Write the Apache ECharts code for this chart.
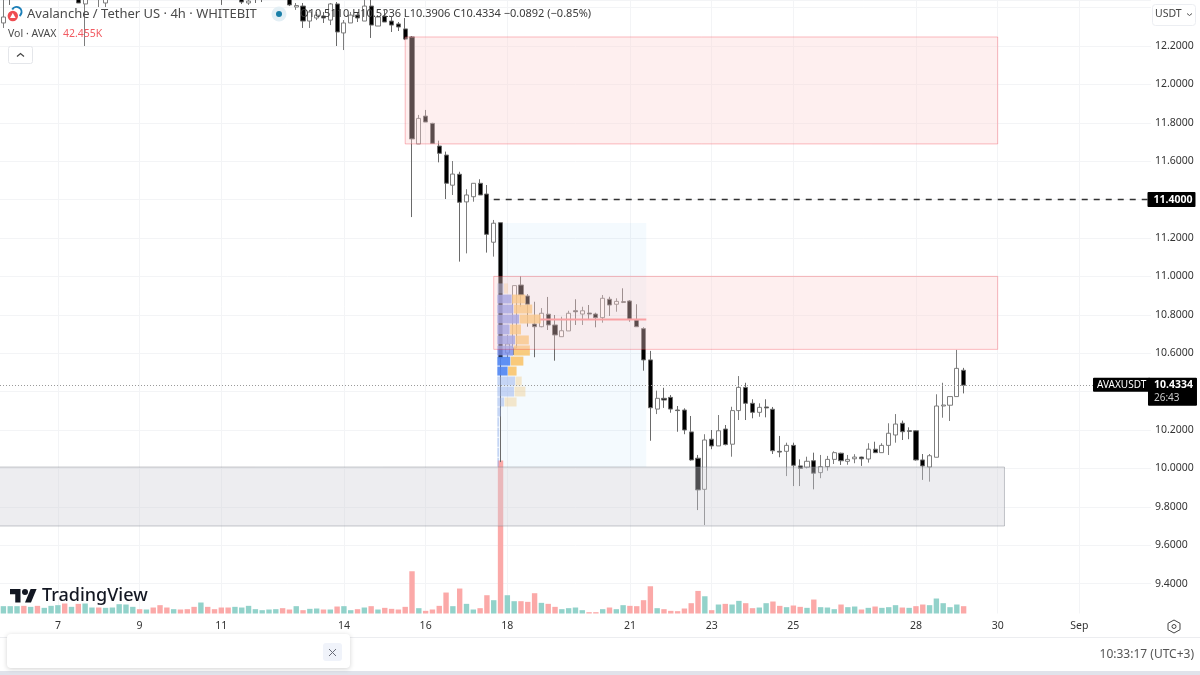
<!DOCTYPE html>
<html>
<head>
<meta charset="utf-8">
<title>AVAXUSDT 4h</title>
<style>
  html, body { margin: 0; padding: 0; background: #fff; }
  #chart { width: 1200px; height: 675px; }
</style>
<script src="https://cdn.jsdelivr.net/npm/echarts@6/dist/echarts.min.js"></script>
</head>
<body>
<div id="chart"></div>
<script>
// 4h bars, bar numbers start at 1 = first candle at the left edge
const tickBars = [9, 21, 33, 51, 63, 75, 93, 105, 117, 135, 147, 159];
const tickLabels = ["7", "9", "11", "14", "16", "18", "21", "23", "25", "28", "30", "Sep"];
const priceTicks = { min: 9.4, max: 12.4396, step: 0.2 };

const opens = [
  12.320, 12.52, 12.49, 12.53, 12.50, 12.54, 12.51, 12.55, 12.58,
  12.53, 12.56, 12.50, 12.419, 12.47, 12.46, 12.424, 12.455, 12.49, 12.52,
  12.55, 12.52, 12.48, 12.50, 12.47, 12.51, 12.49, 12.52, 12.50, 12.53,
  12.50, 12.56, 12.53, 12.50, 12.47, 12.49, 12.47, 12.424, 12.46, 12.465,
  12.45, 12.48, 12.50, 12.48, 12.403, 12.408, 12.330, 12.346, 12.356, 12.335,
  12.419, 12.268, 12.320, 12.361, 12.330, 12.408, 12.304, 12.356, 12.330, 12.315,
  12.289, 12.247, 11.690, 11.835, 11.797, 11.679, 11.632, 11.475, 11.532, 11.388,
  11.415, 11.485, 11.429, 11.178, 11.280, 10.601, 10.627, 10.955, 10.898, 10.752,
  10.738, 10.803, 10.747, 10.686, 10.716, 10.821, 10.804, 10.809, 10.804, 10.785,
  10.881, 10.855, 10.868, 10.872, 10.773, 10.728, 10.565, 10.309, 10.365, 10.370,
  10.304, 10.304, 10.190, 10.053, 9.891, 10.152, 10.117, 10.205, 10.126, 10.301,
  10.422, 10.339, 10.292, 10.320, 10.308, 10.089, 10.089, 10.120, 10.013, 10.006,
  10.040, 9.978, 10.009, 10.047, 10.079, 10.037, 10.050, 10.059, 10.049, 10.100,
  10.082, 10.120, 10.174, 10.235, 10.196, 10.196, 10.044, 10.007, 10.058, 10.325,
  10.329, 10.374, 10.5110
];
const closes = [
  12.351, 12.47, 12.53, 12.50, 12.54, 12.51, 12.55, 12.58, 12.53,
  12.56, 12.50, 12.424, 12.471, 12.50, 12.49, 12.455, 12.49, 12.52, 12.55,
  12.52, 12.48, 12.50, 12.47, 12.51, 12.49, 12.52, 12.50, 12.53, 12.50,
  12.56, 12.53, 12.50, 12.47, 12.49, 12.48, 12.429, 12.434, 12.445, 12.45,
  12.48, 12.50, 12.48, 12.414, 12.411, 12.330, 12.377, 12.361, 12.346, 12.419,
  12.273, 12.320, 12.361, 12.346, 12.408, 12.309, 12.351, 12.325, 12.309, 12.299,
  12.236, 11.716, 11.823, 11.804, 11.693, 11.641, 11.485, 11.533, 11.386, 11.424,
  11.485, 11.424, 11.219, 11.277, 10.575, 10.648, 10.952, 10.903, 10.855, 10.738,
  10.808, 10.747, 10.695, 10.717, 10.808, 10.816, 10.821, 10.804, 10.785, 10.886,
  10.851, 10.870, 10.865, 10.777, 10.738, 10.565, 10.316, 10.365, 10.356, 10.309,
  10.301, 10.200, 10.044, 9.888, 10.148, 10.117, 10.196, 10.124, 10.301, 10.422,
  10.339, 10.292, 10.318, 10.315, 10.092, 10.085, 10.120, 10.016, 10.000, 10.037,
  9.975, 10.009, 10.047, 10.082, 10.040, 10.047, 10.059, 10.050, 10.100, 10.082,
  10.120, 10.183, 10.231, 10.191, 10.193, 10.044, 10.013, 10.066, 10.325, 10.330,
  10.374, 10.521, 10.4334
];
const lows = [
  12.294, 12.414, 12.46, 12.47, 12.48, 12.49, 12.49, 12.52, 12.50,
  12.50, 12.48, 12.424, 12.200, 12.45, 12.403, 12.403, 12.45, 12.47, 12.50,
  12.50, 12.46, 12.46, 12.46, 12.46, 12.46, 12.47, 12.48, 12.48, 12.48,
  12.48, 12.51, 12.48, 12.414, 12.46, 12.46, 12.419, 12.414, 12.424, 12.429,
  12.45, 12.46, 12.46, 12.408, 12.388, 12.294, 12.294, 12.335, 12.320, 12.309,
  12.200, 12.179, 12.320, 12.325, 12.330, 12.242, 12.304, 12.325, 12.273, 12.278,
  12.231, 11.309, 11.690, 11.804, 11.693, 11.594, 11.403, 11.424, 11.077, 11.120,
  11.389, 11.424, 11.124, 11.103, 10.033, 10.575, 10.591, 10.842, 10.738, 10.579,
  10.735, 10.721, 10.561, 10.686, 10.716, 10.747, 10.747, 10.773, 10.735, 10.759,
  10.794, 10.816, 10.861, 10.764, 10.738, 10.509, 10.144, 10.283, 10.315, 10.290,
  10.191, 10.178, 10.040, 9.783, 9.705, 10.100, 10.117, 10.120, 10.061, 10.252,
  10.252, 10.261, 10.269, 10.266, 10.075, 10.058, 9.960, 9.908, 9.908, 10.000,
  9.891, 9.949, 9.988, 10.023, 10.018, 10.019, 10.027, 10.013, 10.030, 10.082,
  10.082, 10.070, 10.134, 10.148, 10.152, 10.040, 9.940, 9.931, 10.058, 10.264,
  10.247, 10.374, 10.3906
];
const highs = [
  12.46, 12.55, 12.55, 12.56, 12.57, 12.58, 12.58, 12.60, 12.60,
  12.59, 12.58, 12.52, 12.49, 12.52, 12.51, 12.47, 12.51, 12.54, 12.57,
  12.57, 12.54, 12.52, 12.52, 12.53, 12.53, 12.54, 12.54, 12.55, 12.55,
  12.58, 12.58, 12.55, 12.52, 12.51, 12.51, 12.49, 12.46, 12.47, 12.48,
  12.50, 12.52, 12.52, 12.50, 12.424, 12.424, 12.388, 12.377, 12.377, 12.424,
  12.429, 12.335, 12.377, 12.377, 12.44, 12.44, 12.361, 12.388, 12.351, 12.325,
  12.346, 12.252, 11.841, 11.867, 11.80, 11.707, 11.650, 11.601, 11.545, 11.454,
  11.485, 11.506, 11.476, 11.294, 11.280, 10.695, 10.952, 10.999, 10.908, 10.868,
  10.835, 10.893, 10.799, 10.790, 10.821, 10.881, 10.842, 10.851, 10.811, 10.903,
  10.894, 10.886, 10.938, 10.877, 10.855, 10.735, 10.612, 10.405, 10.420, 10.382,
  10.325, 10.313, 10.273, 10.070, 10.178, 10.200, 10.278, 10.226, 10.321, 10.481,
  10.446, 10.360, 10.339, 10.360, 10.320, 10.169, 10.134, 10.134, 10.047, 10.061,
  10.082, 10.070, 10.065, 10.089, 10.082, 10.070, 10.074, 10.061, 10.131, 10.139,
  10.131, 10.235, 10.283, 10.249, 10.214, 10.200, 10.075, 10.075, 10.386, 10.446,
  10.374, 10.617, 10.5236
];

// thousands of AVAX per bar
const volumes = [
  42.5, 42.5, 42.5, 44.4, 38.6, 44.4, 32.8, 44.4, 48.3,
  57.9, 38.6, 56, 57.9, 34.7, 34.7, 32.8, 34.7, 54, 52.1,
  38.6, 25.1, 23.2, 34.7, 48.3, 34.7, 25.1, 23.2, 25.1, 38.6,
  63.7, 38.6, 25.1, 34.7, 34.7, 38.6, 34.7, 44.4, 25.1, 19.3,
  23.2, 25.1, 30.9, 23.2, 42.5, 19.3, 27, 29, 23.2, 23.2,
  40.5, 42.5, 19.3, 25.1, 34.7, 42.5, 23.2, 32.8, 27, 23.2,
  38.6, 245, 30.9, 15.4, 23.2, 44.4, 121.6, 42.5, 144.8, 56,
  23.2, 30.9, 106, 77.2, 887, 106, 71.4, 71.4, 67.6, 117.7,
  61.8, 56, 38.6, 25.1, 30.9, 34.7, 19.3, 7.7, 7.7, 25.1,
  34.7, 25.1, 48.3, 44.4, 42.5, 77.2, 158, 30.9, 25.1, 15.4,
  13.5, 29, 59.8, 131, 100, 19.3, 52.1, 56, 52.1, 73.3,
  59.8, 30.9, 34.7, 59.8, 69.5, 44.4, 36.7, 46.3, 38.6, 32.8,
  81, 36.7, 34.7, 25.1, 52.1, 36.7, 40.5, 23.2, 32.8, 40.5,
  32.8, 36.7, 48.3, 34.7, 32.8, 42.5, 52.1, 48.3, 86.9, 59.8,
  36.7, 52.1, 42.455
];
const redVolumeBars = [
  4, 6, 10, 12, 15, 21, 23, 24, 25, 27, 28, 29, 31, 32, 33, 34, 42, 43, 45, 48,
  50, 53, 55, 57, 58, 59, 60, 61, 63, 64, 65, 66, 68, 71, 72, 74, 77, 78, 79, 81,
  82, 87, 88, 90, 93, 94, 95, 96, 98, 99, 100, 101, 102, 103, 105, 107, 110, 111,
  114, 115, 117, 118, 120, 124, 127, 129, 133, 135, 136, 142
];

// fixed range volume profile, widths counted in bars
const profileEdges = [
  10.966, 10.908, 10.856, 10.804, 10.752, 10.695, 10.643, 10.585, 10.533,
  10.481, 10.429, 10.372, 10.320, 10.268, 10.215, 10.162, 10.110, 10.058, 10.007
];
const profileBuy = [0.9, 2.1, 2.35, 3.2, 1.8, 2.6, 2.35, 1.9, 1.5, 2.6, 2.45, 1.0, 0.5, 0.25, 0.25, 0.25, 0.25, 0.25];
const profileSell = [0.6, 1.95, 2.7, 3.1, 1.6, 1.95, 2.35, 1.85, 1.25, 0.9, 1.6, 1.75, 0, 0, 0, 0, 0, 0];
const profileFirstBar = 73.53;
const profileLastBar = 95.4;
const pocPrice = 10.775;
const profileTop = 11.278;
const profileBottom = 10.007;

const lastPrice = 10.4334;
const levelPrice = 11.4;
const barCount = 169;

const font = '"Noto Sans", sans-serif';
const bar = (n) => n - 1; // bar number -> category index
const categories = Array.from({ length: barCount }, (_, i) => {
  const t = tickBars.indexOf(i + 1);
  return t >= 0 ? tickLabels[t] : "";
});
const candles = opens.map((o, i) => [o, closes[i], lows[i], highs[i]]);
const volumeBars = volumes.map((v, i) => ({
  value: v,
  itemStyle: { color: redVolumeBars.includes(i + 1) ? "#fba9a8" : "#92d2ca" },
}));
const hasLabel = (i, value) => value !== "";

const zoneStyle = {
  color: "rgba(252, 210, 210, 0.36)",
  borderColor: "rgba(242, 54, 69, 0.33)",
  borderWidth: 1,
};

// rows inside the red zone, rows just under it, then the pale tail
function rowColors(row) {
  if (row === 0 || row >= 9) {
    return ["rgba(150, 175, 235, 0.5)", "rgba(240, 200, 130, 0.4)"];
  }
  if (row < 7) {
    return ["rgba(125, 145, 235, 0.85)", "rgba(249, 193, 95, 0.8)"];
  }
  return ["rgba(79, 132, 242, 0.9)", "rgba(250, 190, 90, 0.8)"];
}

function renderProfile(params, api) {
  const row = api.value(0);
  const step = api.size([1, 0])[0];
  const anchor = bar(74);
  const base = api.coord([anchor, profileEdges[row]])[0] + (profileFirstBar - 74) * step;
  const top = api.coord([anchor, profileEdges[row]])[1];
  const bottom = api.coord([anchor, profileEdges[row + 1]])[1];
  const buyW = profileBuy[row] * step;
  const sellW = profileSell[row] * step;
  const colors = rowColors(row);
  const children = [
    {
      type: "rect",
      shape: { x: base, y: top + 0.5, width: buyW, height: bottom - top - 1 },
      style: { fill: colors[0] },
    },
    {
      type: "rect",
      shape: { x: base + buyW + 0.5, y: top + 0.5, width: sellW, height: bottom - top - 1 },
      style: { fill: colors[1] },
    },
  ];
  if (row === 3) {
    const y = api.coord([anchor, pocPrice])[1];
    const endX = api.coord([anchor, pocPrice])[0] + (profileLastBar - 74) * step;
    children.push({
      type: "line",
      shape: { x1: base + buyW + sellW, y1: y, x2: endX, y2: y },
      style: { stroke: "#f7858a", lineWidth: 2 },
    });
  }
  return { type: "group", children };
}

function renderProfileBack(params, api) {
  const step = api.size([1, 0])[0];
  const a = api.coord([bar(74), profileTop]);
  const b = api.coord([bar(74), profileBottom]);
  const x1 = a[0] + (profileFirstBar - 74) * step;
  const x2 = a[0] + (profileLastBar - 74) * step;
  return {
    type: "rect",
    shape: { x: x1, y: a[1], width: x2 - x1, height: b[1] - a[1] },
    style: { fill: "rgba(33, 150, 243, 0.05)" },
  };
}

// grey demand zone runs off the left edge of the pane
function renderGreyZone(params, api) {
  const a = api.coord([bar(148), 10.007]);
  const b = api.coord([bar(148), 9.7]);
  const left = params.coordSys.x - 2;
  return {
    type: "rect",
    shape: { x: left, y: a[1], width: a[0] - left, height: b[1] - a[1] },
    style: {
      fill: "rgba(207, 208, 215, 0.38)",
      stroke: "rgba(120, 123, 134, 0.42)",
      lineWidth: 1,
    },
  };
}

const option = {
  animation: false,
  backgroundColor: "#fff",
  textStyle: { fontFamily: font },
  grid: [
    { left: 0, width: 1150.9, top: 0, height: 583.6 },
    { left: 0, width: 1150.9, top: 0, height: 613.5 },
  ],
  xAxis: [
    {
      type: "category",
      gridIndex: 0,
      data: categories,
      show: false,
    },
    {
      type: "category",
      gridIndex: 1,
      data: categories,
      axisLine: { show: false },
      axisTick: { show: false, alignWithLabel: true },
      axisLabel: {
        interval: hasLabel,
        margin: 7,
        fontSize: 10.5,
        color: "#333",
        fontFamily: font,
      },
      splitLine: {
        show: true,
        interval: hasLabel,
        alignWithLabel: true,
        lineStyle: { color: "#f3f4f6", width: 1 },
      },
    },
  ],
  yAxis: [
    {
      type: "value",
      gridIndex: 0,
      position: "right",
      min: priceTicks.min,
      max: priceTicks.max,
      interval: priceTicks.step,
      axisLine: { show: false },
      axisTick: { show: false },
      axisLabel: {
        margin: 4,
        fontSize: 10.5,
        color: "#333",
        fontFamily: font,
        formatter: (v) => (v > 12.3 ? "" : v.toFixed(4)),
      },
      splitLine: { lineStyle: { color: "#f3f4f6", width: 1 } },
    },
    {
      type: "value",
      gridIndex: 1,
      min: 0,
      max: 3558,
      show: false,
      splitLine: { show: false },
    },
  ],
  series: [
    {
      type: "custom",
      name: "profile back",
      xAxisIndex: 0,
      yAxisIndex: 0,
      z: 1,
      silent: true,
      clip: false,
      data: [[0]],
      renderItem: renderProfileBack,
    },
    {
      type: "bar",
      name: "Vol",
      xAxisIndex: 1,
      yAxisIndex: 1,
      barWidth: 5.4,
      z: 2,
      silent: true,
      data: volumeBars,
    },
    {
      type: "candlestick",
      name: "AVAXUSDT",
      xAxisIndex: 0,
      yAxisIndex: 0,
      barWidth: 4.6,
      z: 3,
      itemStyle: {
        color: "#ffffff",
        color0: "#000000",
        borderColor: "#7d7d7d",
        borderColor0: "#6a6a6a",
        borderWidth: 1,
      },
      data: candles,
    },
    {
      type: "custom",
      name: "profile",
      xAxisIndex: 0,
      yAxisIndex: 0,
      z: 4,
      silent: true,
      clip: false,
      data: profileBuy.map((_, i) => [i]),
      renderItem: renderProfile,
    },
    {
      type: "custom",
      name: "grey zone",
      xAxisIndex: 0,
      yAxisIndex: 0,
      z: 5,
      silent: true,
      clip: false,
      data: [[0]],
      renderItem: renderGreyZone,
    },
    {
      type: "line",
      name: "zones",
      xAxisIndex: 0,
      yAxisIndex: 0,
      z: 5,
      silent: true,
      data: [],
      markArea: {
        silent: true,
        z: 5,
        data: [
          [{ coord: [bar(60), 12.247], itemStyle: zoneStyle }, { coord: [bar(147), 11.69] }],
          [{ coord: [bar(73), 11.0], itemStyle: zoneStyle }, { coord: [bar(147), 10.62] }],
        ],
      },
    },
    {
      type: "line",
      name: "levels",
      xAxisIndex: 0,
      yAxisIndex: 0,
      z: 6,
      silent: true,
      data: [],
      markLine: {
        silent: true,
        z: 6,
        symbol: ["none", "none"],
        data: [
          [
            {
              coord: [bar(73), levelPrice],
              lineStyle: { color: "#333", type: [6, 6], width: 1.4 },
              label: {
                show: true,
                position: "end",
                distance: 0,
                formatter: levelPrice.toFixed(4),
                color: "#fff",
                backgroundColor: "#000",
                fontSize: 10.5,
                fontWeight: "bold",
                fontFamily: font,
                padding: [2, 3, 2, 6],
                borderRadius: 1,
              },
            },
            { coord: [bar(169), levelPrice] },
          ],
          [
            {
              coord: [bar(1), lastPrice],
              x: 0,
              lineStyle: { color: "#9a9a9a", type: [1, 2], width: 1 },
              label: { show: false },
            },
            { coord: [bar(169), lastPrice] },
          ],
        ],
      },
      markPoint: {
        silent: true,
        z: 7,
        symbol: "rect",
        symbolSize: 1,
        itemStyle: { color: "rgba(0,0,0,0)" },
        data: [
          {
            coord: [bar(169), lastPrice],
            label: {
              show: true,
              position: [1, -7],
              formatter: "{a|" + lastPrice.toFixed(4) + "}\n{b|26:43}",
              backgroundColor: "#000",
              padding: [1, 4, 1, 6],
              borderRadius: 1,
              rich: {
                a: { color: "#fff", fontSize: 10.5, fontWeight: "bold", fontFamily: font, lineHeight: 13 },
                b: { color: "#ccc", fontSize: 10, fontFamily: font, lineHeight: 13 },
              },
            },
          },
          {
            coord: [bar(169), lastPrice],
            label: {
              show: true,
              position: [-54, -7],
              formatter: "AVAXUSDT",
              color: "#fff",
              backgroundColor: "#000",
              fontSize: 10,
              fontFamily: font,
              padding: [2, 4],
              borderRadius: 1,
            },
          },
        ],
      },
    },
  ],
  graphic: [
    // bottom strip of the widget
    { type: "line", silent: true, z: 20, shape: { x1: 0, y1: 637.5, x2: 1200, y2: 637.5 }, style: { stroke: "#ecedf0", lineWidth: 1 } },
    { type: "rect", silent: true, z: 20, shape: { x: 0, y: 671, width: 1200, height: 4 }, style: { fill: "#e0e3eb" } },
    {
      type: "rect",
      silent: true,
      z: 21,
      shape: { x: 7, y: 634, width: 343, height: 34, r: 4 },
      style: { fill: "#fff", shadowBlur: 5, shadowColor: "rgba(0,0,0,0.18)", shadowOffsetY: 1 },
    },
    { type: "rect", silent: true, z: 22, shape: { x: 323, y: 643, width: 19, height: 18, r: 3 }, style: { fill: "#f0f3fa" } },
    { type: "line", silent: true, z: 23, shape: { x1: 329, y1: 649, x2: 336, y2: 656 }, style: { stroke: "#6a6d78", lineWidth: 1 } },
    { type: "line", silent: true, z: 23, shape: { x1: 336, y1: 649, x2: 329, y2: 656 }, style: { stroke: "#6a6d78", lineWidth: 1 } },
    { type: "text", silent: true, z: 22, x: 1194, y: 655, style: { text: "10:33:17 (UTC+3)", fill: "#555", font: "12px " + font, textAlign: "right", textVerticalAlign: "middle" } },

    // settings icon
    {
      type: "polygon",
      silent: true,
      z: 22,
      shape: { points: [[1174, 620], [1180, 623.3], [1180, 629.7], [1174, 633], [1168, 629.7], [1168, 623.3]] },
      style: { fill: "#fff", stroke: "#444", lineWidth: 1 },
    },
    { type: "circle", silent: true, z: 23, shape: { cx: 1174, cy: 626.5, r: 2 }, style: { fill: "#fff", stroke: "#444", lineWidth: 1 } },

    // currency button
    { type: "rect", silent: true, z: 22, shape: { x: 1152.5, y: 4.5, width: 43, height: 21, r: 3 }, style: { fill: "#fff", stroke: "#eceef2", lineWidth: 1 } },
    { type: "text", silent: true, z: 23, x: 1155, y: 14.5, style: { text: "USDT", fill: "#444", font: "10.5px " + font, textVerticalAlign: "middle" } },
    { type: "polyline", silent: true, z: 23, shape: { points: [[1187, 13.5], [1189.5, 15.5], [1192, 13.5]] }, style: { stroke: "#555", fill: "none", lineWidth: 1 } },

    // symbol logo
    { type: "arc", silent: true, z: 22, shape: { cx: 16.5, cy: 12, r: 5, startAngle: -2.6, endAngle: 0.9 }, style: { stroke: "#1c7fb8", fill: "none", lineWidth: 2 } },
    { type: "circle", silent: true, z: 23, shape: { cx: 12.8, cy: 16, r: 5.2 }, style: { fill: "#ef4d52" } },
    { type: "polygon", silent: true, z: 24, shape: { points: [[12.8, 13], [15.6, 18], [10, 18]] }, style: { fill: "#fff" } },

    // legend
    { type: "text", silent: true, z: 22, x: 27, y: 14, style: { text: "Avalanche / Tether US · 4h · WHITEBIT", fill: "#4a4a4a", font: "13px " + font, textVerticalAlign: "middle" } },
    { type: "circle", silent: true, z: 22, shape: { cx: 279, cy: 14, r: 7.5 }, style: { fill: "#e3eff5" } },
    { type: "circle", silent: true, z: 23, shape: { cx: 279, cy: 14, r: 3 }, style: { fill: "#1a7fa8" } },
    { type: "text", silent: true, z: 22, x: 300, y: 14, style: { text: "O10.5110 H10.5236 L10.3906 C10.4334 −0.0892 (−0.85%)", fill: "#3a3a3a", font: "11px " + font, textVerticalAlign: "middle" } },
    { type: "text", silent: true, z: 22, x: 8, y: 34.5, style: { text: "Vol · AVAX", fill: "#4a4a4a", font: "10.5px " + font, textVerticalAlign: "middle" } },
    { type: "text", silent: true, z: 22, x: 63, y: 34.5, style: { text: "42.455K", fill: "#f25b62", font: "10.5px " + font, textVerticalAlign: "middle" } },
    { type: "rect", silent: true, z: 22, shape: { x: 8.5, y: 46.5, width: 24, height: 17, r: 2 }, style: { fill: "#fff", stroke: "#e4e6ea", lineWidth: 1 } },
    { type: "polyline", silent: true, z: 23, shape: { points: [[17, 56.5], [20.5, 53.5], [24, 56.5]] }, style: { stroke: "#444", fill: "none", lineWidth: 1.2 } },

    // watermark
    { type: "polygon", silent: true, z: 22, shape: { points: [[20.5, 602.5], [15.25, 602.5], [15.25, 594.25], [10, 594.25], [10, 589], [20.5, 589]] }, style: { fill: "#131722" } },
    { type: "polygon", silent: true, z: 22, shape: { points: [[31, 602.5], [25, 602.5], [30.6, 589], [36.6, 589]] }, style: { fill: "#131722" } },
    { type: "circle", silent: true, z: 22, shape: { cx: 25, cy: 592, r: 3 }, style: { fill: "#131722" } },
    { type: "text", silent: true, z: 22, x: 42, y: 596, style: { text: "TradingView", fill: "#131722", font: "500 18px " + font, textVerticalAlign: "middle" } },
  ],
};

echarts.init(document.querySelector("#chart")).setOption(option);
</script>
</body>
</html>
